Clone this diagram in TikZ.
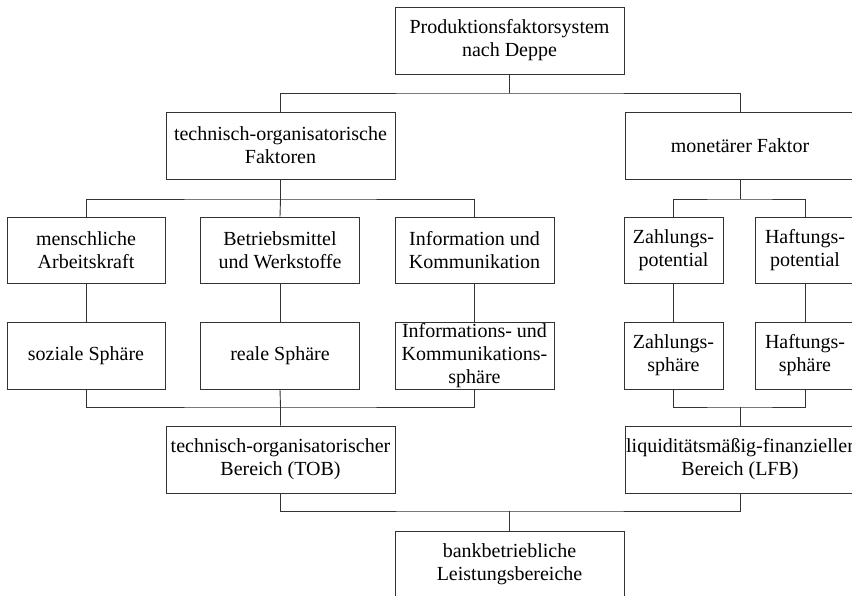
\documentclass[tikz,border=0pt]{standalone}
\usepackage{fontspec}
\setmainfont{Liberation Serif}
\begin{document}
\begin{tikzpicture}[x=1pt,y=-1pt,
  box/.style={draw=black!80, line width=0.9pt, rectangle, inner sep=0pt, align=center,
    font=\fontsize{20}{23}\selectfont, minimum height=67pt},
  ln/.style={draw=black!80, line width=0.9pt}]
\useasboundingbox (0,0) rectangle (852,596);
\clip (0,0) rectangle (852,596);
\node[box, minimum width=229pt] (top) at (509.5,40.5) {Produktionsfaktorsystem\\nach Deppe};
\node[box, minimum width=229pt] (tof) at (280.5,145.5) {technisch-organisatorische\\Faktoren};
\node[box, minimum width=229pt] (mon) at (740,145.5) {monetärer Faktor};
\node[box, minimum width=158pt, minimum height=66pt] (m1) at (86,250) {menschliche\\Arbeitskraft};
\node[box, minimum width=159pt, minimum height=66pt] (m2) at (280,250) {Betriebsmittel\\und Werkstoffe};
\node[box, minimum width=159pt, minimum height=66pt] (m3) at (474.5,250) {Information und\\Kommunikation};
\node[box, minimum width=99pt, minimum height=66pt] (z1) at (673.5,250) {Zahlungs-\\potential};
\node[box, minimum width=100pt, minimum height=66pt] (h1) at (805,250) {Haftungs-\\potential};
\node[box, minimum width=158pt] (s1) at (86,355.5) {soziale Sphäre};
\node[box, minimum width=159pt] (s2) at (280,355.5) {reale Sphäre};
\node[box, minimum width=159pt] (s3) at (474.5,355.5) {Informations- und\\Kommunikations-\\sphäre};
\node[box, minimum width=99pt] (z2) at (673.5,355.5) {Zahlungs-\\sphäre};
\node[box, minimum width=100pt] (h2) at (805,355.5) {Haftungs-\\sphäre};
\node[box, minimum width=229pt] (tob) at (280.5,459.5) {technisch-organisatorischer\\Bereich (TOB)};
\node[box, minimum width=229pt] (lfb) at (740,459.5) {liquiditätsmäßig-finanzieller\\Bereich (LFB)};
\node[box, minimum width=229pt] (bot) at (509.5,564.5) {bankbetriebliche\\Leistungsbereiche};
\coordinate (j1) at (509.5,93);
\coordinate (j2) at (280.5,199);
\coordinate (j3) at (740,199);
\coordinate (j4) at (280.5,407);
\coordinate (j5) at (740,407);
\coordinate (j6) at (509.5,511);
\draw[ln] (top.south) -- (j1);
\draw[ln] (tof.north) |- (j1) -| (mon.north);
\draw[ln] (tof.south) -- (j2);
\draw[ln] (m1.north) |- (j2) -| (m3.north);
\draw[ln] (j2) -- (m2.north);
\draw[ln] (mon.south) -- (j3);
\draw[ln] (z1.north) |- (j3) -| (h1.north);
\draw[ln] (m1) -- (s1);
\draw[ln] (m2) -- (s2);
\draw[ln] (m3) -- (s3);
\draw[ln] (z1) -- (z2);
\draw[ln] (h1) -- (h2);
\draw[ln] (s1.south) |- (j4) -| (s3.south);
\draw[ln] (s2.south) -- (j4) -- (tob.north);
\draw[ln] (z2.south) |- (j5) -| (h2.south);
\draw[ln] (j5) -- (lfb.north);
\draw[ln] (tob.south) |- (j6) -| (lfb.south);
\draw[ln] (j6) -- (bot.north);
\end{tikzpicture}
\end{document}
